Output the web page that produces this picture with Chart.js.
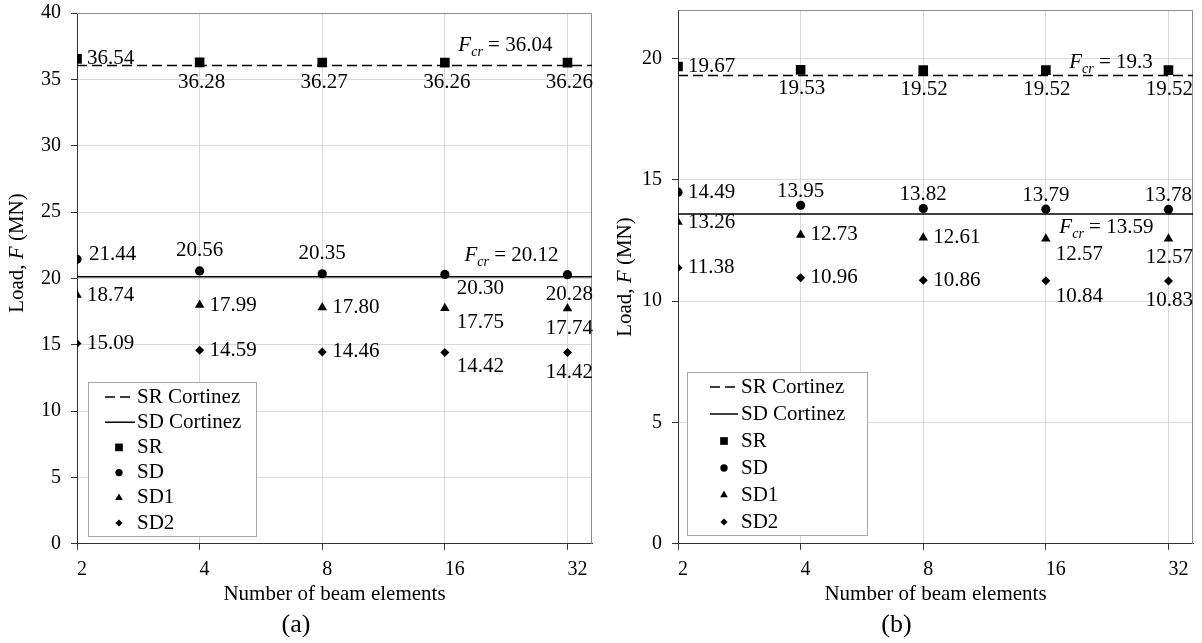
<!DOCTYPE html>
<html>
<head>
<meta charset="utf-8">
<script src="https://cdn.jsdelivr.net/npm/chart.js@4.4.0/dist/chart.umd.min.js"></script>
<style>
  body { margin: 0; background: #fff; }
  #wrap { position: relative; width: 1202px; height: 643px; }
  canvas { position: absolute; top: 0; }
</style>
</head>
<body>
<div id="wrap">
  <canvas id="chartA" width="600" height="643" style="left:0"></canvas>
  <canvas id="chartB" width="602" height="643" style="left:600px"></canvas>
</div>
<script>
// number of beam elements (category axis)
const xLabels = ['2', '4', '8', '16', '32'];

// panel (a)
const srA  = [36.54, 36.28, 36.27, 36.26, 36.26];
const sdA  = [21.44, 20.56, 20.35, 20.30, 20.28];
const sd1A = [18.74, 17.99, 17.80, 17.75, 17.74];
const sd2A = [15.09, 14.59, 14.46, 14.42, 14.42];
const fcrA = [36.04, 20.12];   // SR Cortinez, SD Cortinez

// panel (b)
const srB  = [19.67, 19.53, 19.52, 19.52, 19.52];
const sdB  = [14.49, 13.95, 13.82, 13.79, 13.78];
const sd1B = [13.26, 12.73, 12.61, 12.57, 12.57];
const sd2B = [11.38, 10.96, 10.86, 10.84, 10.83];
const fcrB = [19.3, 13.59];

const FONT = "'Liberation Serif', 'Times New Roman', serif";
Chart.defaults.font.family = FONT;
Chart.defaults.color = '#000';

const X_MAX = 4.2;

function drawPieces(ctx, pieces, x, y) {
  // pieces: [text, size, italic, dy]
  let cx = x;
  pieces.forEach(p => {
    ctx.font = (p[2] ? 'italic ' : '') + p[1] + 'px ' + FONT;
    ctx.fillText(p[0], cx, y + (p[3] || 0));
    cx += ctx.measureText(p[0]).width;
  });
}
function piecesWidth(ctx, pieces) {
  let w = 0;
  pieces.forEach(p => {
    ctx.font = (p[2] ? 'italic ' : '') + p[1] + 'px ' + FONT;
    w += ctx.measureText(p[0]).width;
  });
  return w;
}

function makePanel(id, cfg) {
  const series = [
    { label: 'SR',  vals: cfg.sr,  style: 'rect',     r: 6.8 },
    { label: 'SD',  vals: cfg.sd,  style: 'circle',   r: 4.6 },
    { label: 'SD1', vals: cfg.sd1, style: 'triangle', r: 5.5 },
    { label: 'SD2', vals: cfg.sd2, style: 'rectRot',  r: 4.5 }
  ];

  const datasets = [
    { type: 'line', label: 'SR Cortinez', data: [{ x: 0, y: cfg.fcr[0] }, { x: X_MAX, y: cfg.fcr[0] }],
      borderColor: '#000', borderWidth: 1.5, borderDash: [10, 5], pointRadius: 0, fill: false, order: 2 },
    { type: 'line', label: 'SD Cortinez', data: [{ x: 0, y: cfg.fcr[1] }, { x: X_MAX, y: cfg.fcr[1] }],
      borderColor: '#000', borderWidth: 1.5, pointRadius: 0, fill: false, order: 2 }
  ];
  series.forEach(s => datasets.push({
    type: 'scatter', label: s.label,
    data: s.vals.map((v, i) => ({ x: i, y: v })),
    pointStyle: s.style, pointRadius: s.r, backgroundColor: '#000', borderColor: '#000',
    borderWidth: 0, order: 1
  }));

  const fig = {
    id: 'fig',
    beforeDatasetsDraw(chart) {
      const { ctx, chartArea: a } = chart;
      ctx.save();
      ctx.strokeStyle = '#8c8c8c';
      ctx.lineWidth = 1;
      ctx.beginPath();
      ctx.moveTo(a.left, a.top + 0.5);
      ctx.lineTo(a.right - 0.5, a.top + 0.5);
      ctx.lineTo(a.right - 0.5, a.bottom);
      ctx.stroke();
      ctx.restore();
    },
    afterDatasetsDraw(chart) {
      const { ctx } = chart;
      const xs = chart.scales.x, ys = chart.scales.y;
      ctx.save();
      ctx.fillStyle = '#000';
      ctx.textBaseline = 'middle';
      ctx.font = '21px ' + FONT;
      // point value labels
      series.forEach((s, k) => {
        const meta = chart.getDatasetMeta(k + 2);
        meta.data.forEach((pt, i) => {
          const o = cfg.off[cfg.place[s.label][i]];
          ctx.textAlign = o.align;
          ctx.fillText(s.vals[i].toFixed(2), pt.x + o.dx, pt.y + o.dy);
        });
      });
      // F_cr annotations
      ctx.textAlign = 'left';
      ctx.textBaseline = 'alphabetic';
      cfg.fcrNote.forEach((n, k) => {
        const px = xs.getPixelForValue(n.x);
        const py = ys.getPixelForValue(cfg.fcr[k]) + n.dy;
        drawPieces(ctx, [['F', 21, true], ['cr', 14, true, 5], [' = ' + cfg.fcr[k], 21, false]], px, py);
      });
      ctx.restore();
    },
    afterDraw(chart) {
      const { ctx, chartArea: a } = chart;
      ctx.save();
      ctx.fillStyle = '#000';
      ctx.textBaseline = 'middle';
      // y axis title with italic F
      const yt = [['Load, ', 21, false], ['F', 21, true], [' (MN)', 21, false]];
      ctx.translate(cfg.yTitle[0], cfg.yTitle[1]);
      ctx.rotate(-Math.PI / 2);
      ctx.textAlign = 'left';
      drawPieces(ctx, yt, -piecesWidth(ctx, yt) / 2, 0);
      ctx.setTransform(1, 0, 0, 1, 0, 0);
      // legend
      const L = cfg.legend;
      const bx = a.left + L.dx;
      ctx.fillStyle = '#fff';
      ctx.fillRect(bx, L.top, L.w, L.h);
      ctx.strokeStyle = '#a6a6a6';
      ctx.lineWidth = 1;
      ctx.strokeRect(bx + 0.5, L.top + 0.5, L.w, L.h);
      ctx.fillStyle = '#000';
      ctx.strokeStyle = '#000';
      ctx.font = '21px ' + FONT;
      ctx.textAlign = 'left';
      chart.data.datasets.forEach((ds, i) => {
        const y = L.row0 + i * L.step;
        if (ds.type === 'line') {
          ctx.lineWidth = 1.5;
          ctx.setLineDash(ds.borderDash || []);
          ctx.beginPath();
          ctx.moveTo(bx + L.line0, y);
          ctx.lineTo(bx + L.line1, y);
          ctx.stroke();
          ctx.setLineDash([]);
        } else {
          Chart.helpers.drawPoint(ctx, { pointStyle: ds.pointStyle, radius: ds.pointRadius * 0.8, borderWidth: 0, rotation: 0 }, bx + L.mark, y);
        }
        ctx.fillText(ds.label, bx + L.text, y);
      });
      ctx.restore();
    }
  };

  return new Chart(document.getElementById(id), {
    type: 'scatter',
    data: { datasets },
    options: {
      responsive: false,
      devicePixelRatio: 1,
      animation: false,
      layout: { padding: cfg.pad },
      plugins: {
        legend: { display: false },
        tooltip: { enabled: false },
        title: { display: true, position: 'bottom', text: cfg.tag,
                 font: { size: 26, family: FONT, weight: 'normal' }, color: '#000',
                 padding: { top: 0, bottom: 2 } }
      },
      scales: {
        x: {
          type: 'linear', min: 0, max: X_MAX,
          afterBuildTicks: s => { s.ticks = xLabels.map((_, i) => ({ value: i })); },
          afterFit: s => { s.height = 66; s.paddingLeft = 0; s.paddingRight = 0; },
          ticks: { callback: v => xLabels[v], align: 'start', autoSkip: false, maxRotation: 0,
                   font: { size: 20 }, color: '#000', padding: 8 },
          grid: { color: '#d9d9d9', tickColor: '#333', tickLength: 6, lineWidth: 1 },
          border: { color: '#333', width: 1 },
          title: { display: true, text: 'Number of beam elements', font: { size: 21 }, color: '#000',
                   padding: { top: 0, bottom: 3 } }
        },
        y: {
          min: 0, max: cfg.yMax,
          afterBuildTicks: s => { s.ticks = s.ticks.filter(t => t.value % 5 === 0); },
          afterFit: s => { s.width = cfg.yWidth; s.paddingTop = 0; s.paddingBottom = 0; },
          ticks: { stepSize: 5, font: { size: 20 }, color: '#000', padding: 10 },
          grid: { color: '#d9d9d9', tickColor: '#333', tickLength: 6, lineWidth: 1 },
          border: { color: '#333', width: 1 }
        }
      }
    },
    plugins: [fig]
  });
}

makePanel('chartA', {
  sr: srA, sd: sdA, sd1: sd1A, sd2: sd2A, fcr: fcrA, yMax: 40, tag: '(a)',
  yWidth: 77, pad: { left: 0, right: 8, top: 13, bottom: 0 },
  yTitle: [17, 253],
  place: {
    SR:  ['r', 'b', 'b', 'b', 'b'],
    SD:  ['ra', 'a', 'a', 'br', 'b'],
    SD1: ['r', 'r', 'r', 'br', 'b'],
    SD2: ['r', 'r', 'r', 'br', 'b']
  },
  off: {
    r:  { dx: 10, dy: 0, align: 'left' },
    ra: { dx: 12, dy: -5, align: 'left' },
    a:  { dx: 0, dy: -20, align: 'center' },
    b:  { dx: 2, dy: 20, align: 'center' },
    br: { dx: 12, dy: 14, align: 'left' }
  },
  fcrNote: [{ x: 3.11, dy: -15 }, { x: 3.16, dy: -16 }],
  legend: { dx: 11, top: 382, w: 168, h: 154, row0: 397, step: 25.2, line0: 17, line1: 47, mark: 31, text: 49 }
});

makePanel('chartB', {
  sr: srB, sd: sdB, sd1: sd1B, sd2: sd2B, fcr: fcrB, yMax: 22, tag: '(b)',
  yWidth: 78, pad: { left: 0, right: 9, top: 10, bottom: 0 },
  yTitle: [25, 277],
  place: {
    SR:  ['r', 'b', 'b', 'b', 'b'],
    SD:  ['r', 'a', 'a', 'a', 'a'],
    SD1: ['r', 'r', 'r', 'br', 'b'],
    SD2: ['r', 'r', 'r', 'br', 'b']
  },
  off: {
    r:  { dx: 10, dy: 0, align: 'left' },
    a:  { dx: 0, dy: -14, align: 'center' },
    b:  { dx: 1, dy: 19, align: 'center' },
    br: { dx: 10, dy: 16, align: 'left' }
  },
  fcrNote: [{ x: 3.19, dy: -8 }, { x: 3.11, dy: 19 }],
  legend: { dx: 9, top: 372, w: 180, h: 163, row0: 387, step: 27, line0: 23, line1: 51, mark: 37, text: 54 }
});
</script>
</body>
</html>
